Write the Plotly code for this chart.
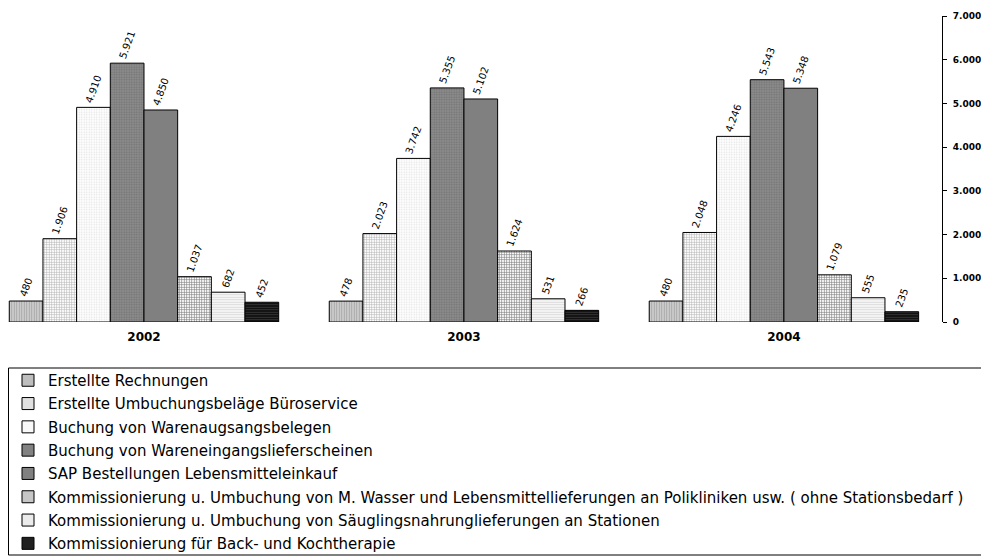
import plotly.graph_objects as go

years = ["2002", "2003", "2004"]

series_names = [
    "Erstellte Rechnungen",
    "Erstellte Umbuchungsbeläge Büroservice",
    "Buchung von Warenaugsangsbelegen",
    "Buchung von Wareneingangslieferscheinen",
    "SAP Bestellungen Lebensmitteleinkauf",
    "Kommissionierung u. Umbuchung von M. Wasser und Lebensmittellieferungen an Polikliniken usw. ( ohne Stationsbedarf )",
    "Kommissionierung u. Umbuchung von Säuglingsnahrunglieferungen an Stationen",
    "Kommissionierung für Back- und Kochtherapie",
]

rechnungen = [480, 478, 480]
umbuchungsbelaege = [1906, 2023, 2048]
warenausgang = [4910, 3742, 4246]
wareneingang = [5921, 5355, 5543]
sap_bestellungen = [4850, 5102, 5348]
komm_wasser = [1037, 1624, 1079]
komm_saeugling = [682, 531, 555]
komm_back = [452, 266, 235]

series_values = [rechnungen, umbuchungsbelaege, warenausgang, wareneingang,
                 sap_bestellungen, komm_wasser, komm_saeugling, komm_back]

# pattern styles (bg, fg, shape, size, solidity)
styles = [
    ("#d8d8d8", "#707070", "|", 2.5, 0.5),
    ("#ffffff", "#5e5e5e", "+", 2.5, 0.38),
    ("#ffffff", "#c4c4c4", ".", 2.5, 0.3),
    ("#8c8c8c", "#555555", ".", 2.5, 0.4),
    ("#808080", "#808080", "", 8, 0.3),
    ("#ffffff", "#000000", "+", 2.5, 0.45),
    ("#ffffff", "#b0b0b0", "-", 2.5, 0.5),
    ("#111111", "#666666", "-", 2.5, 0.35),
]

fig = go.Figure()
for i, (name, vals) in enumerate(zip(series_names, series_values)):
    bg, fg, shape, size, sol = styles[i]
    fig.add_trace(go.Bar(
        x=years, y=vals, name=name, legendgroup="g%d" % i,
        marker=dict(
            color=bg,
            line=dict(color="black", width=1),
            pattern=dict(shape=shape, bgcolor=bg, fgcolor=fg, size=size,
                         solidity=sol, fillmode="overlay"),
        ),
        texttemplate="%{y:,d}",
        textposition="outside",
        textangle=-70,
        textfont=dict(family="DejaVu Sans", size=10, color="black"),
        cliponaxis=False,
    ))

FW, FH = 981, 552
ML, MR, MT, MB = 0, 47, 8, 238
W = FW - ML - MR
H = FH - MT - MB
bottom = FH - MB

fig.update_layout(
    width=FW, height=FH,
    margin=dict(l=ML, r=MR, t=MT, b=MB),
    paper_bgcolor="white", plot_bgcolor="white",
    barmode="group", bargap=0.158, bargroupgap=0,
    separators=",.",
    showlegend=True,
    legend=dict(
        x=0.0, xanchor="left",
        y=(bottom - 356) / H, yanchor="top",
        font=dict(family="DejaVu Sans", size=15, color="black"),
        bgcolor="rgba(0,0,0,0)", borderwidth=0,
        tracegroupgap=0.8, traceorder="grouped",
        itemwidth=30,
    ),
    xaxis=dict(
        type="category", range=[-0.425, 2.494],
        showline=False, showgrid=False, zeroline=False, ticks="",
        ticklabelstandoff=6,
        tickfont=dict(family="DejaVu Sans", size=12, color="black", weight="bold"),
    ),
    yaxis=dict(
        side="right", range=[0, 7000], dtick=1000, tickformat=",d",
        showline=True, linecolor="black", linewidth=1,
        ticks="outside", ticklen=4, tickcolor="black",
        ticklabelstandoff=4,
        showgrid=False, zeroline=False,
        tickfont=dict(family="DejaVu Sans", size=9, color="black", weight="bold"),
    ),
    shapes=[dict(
        type="rect", xref="paper", yref="paper",
        x0=0.5 / W, x1=977 / W,
        y0=(bottom - 360) / H, y1=(bottom - 547) / H,
        line=dict(color="black", width=1), fillcolor="rgba(0,0,0,0)",
    )],
)

fig.write_html("out.html")
